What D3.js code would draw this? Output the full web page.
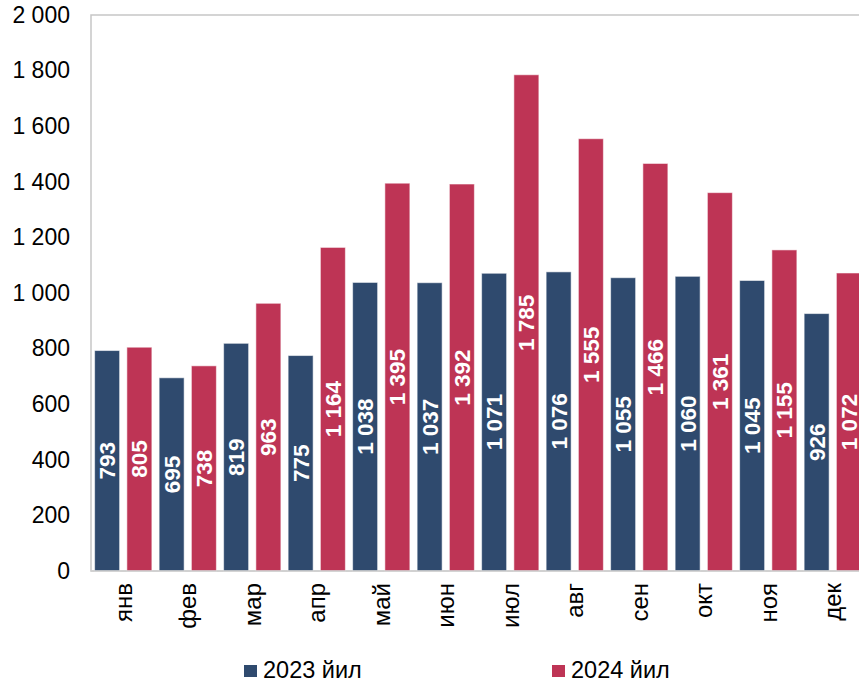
<!DOCTYPE html>
<html>
<head>
<meta charset="utf-8">
<script src="https://cdn.jsdelivr.net/npm/d3@7"></script>
<style>
  html, body { margin: 0; padding: 0; background: #fff; }
  svg { display: block; font-family: Arial, "Liberation Sans", sans-serif; }
</style>
</head>
<body>
<svg id="chart" width="859" height="684"></svg>
<script>
const months = ["янв","фев","мар","апр","май","июн","июл","авг","сен","окт","ноя","дек"];
const seriesNames = ["2023 йил","2024 йил"];
const values2023 = [793, 695, 819, 775, 1038, 1037, 1071, 1076, 1055, 1060, 1045, 926];
const values2024 = [805, 738, 963, 1164, 1395, 1392, 1785, 1555, 1466, 1361, 1155, 1072];
const yTicks = [0, 200, 400, 600, 800, 1000, 1200, 1400, 1600, 1800, 2000];
const colors = ["#2f4a6e", "#be3455"];

const loc = d3.formatLocale({decimal: ",", thousands: " ", grouping: [3], currency: ["", ""]});
const fmt = loc.format(",d");

const svg = d3.select("#chart");
const mLeft = 91, mRight = 865, mTop = 15, mBottom = 571;

const x0 = d3.scaleBand().domain(months).range([mLeft, mRight]).paddingInner(0).paddingOuter(0);
const x1 = d3.scaleBand().domain(seriesNames).range([0, x0.bandwidth()]).paddingInner(0.225).paddingOuter(0.1125);
const y = d3.scaleLinear().domain([0, 2000]).range([mBottom, mTop]);

// plot border
svg.append("rect")
  .attr("x", mLeft).attr("y", mTop)
  .attr("width", mRight - mLeft).attr("height", mBottom - mTop)
  .attr("fill", "none").attr("stroke", "#c6c6c6").attr("stroke-width", 1.5);

// y axis
const yAxis = d3.axisLeft(y).tickValues(yTicks).tickSize(0).tickPadding(21).tickFormat(fmt);
const gy = svg.append("g").attr("transform", `translate(${mLeft},0)`).call(yAxis);
gy.select(".domain").remove();
gy.selectAll("text").attr("font-size", "23px").attr("fill", "#000")
  .attr("font-family", "Arial, 'Liberation Sans', sans-serif");

// x axis labels
const xAxis = d3.axisBottom(x0).tickSize(0).tickPadding(0);
const gx = svg.append("g").attr("transform", `translate(0,${mBottom})`).call(xAxis);
gx.select(".domain").remove();
gx.selectAll(".tick text")
  .attr("font-size", "24px").attr("fill", "#000")
  .attr("font-family", "Arial, 'Liberation Sans', sans-serif")
  .attr("text-anchor", "end")
  .attr("y", 0).attr("dy", "0.3em")
  .attr("transform", "translate(1.5,12) rotate(-90)");

const data = months.map((m, i) => ({month: m, vals: [values2023[i], values2024[i]]}));

const groups = svg.append("g").selectAll("g").data(data).join("g")
  .attr("transform", d => `translate(${x0(d.month)},0)`);

groups.selectAll("rect").data(d => d.vals.map((v, j) => ({s: seriesNames[j], v, j})))
  .join("rect")
  .attr("x", d => x1(d.s))
  .attr("y", d => y(d.v))
  .attr("width", x1.bandwidth())
  .attr("height", d => y(0) - y(d.v))
  .attr("fill", d => colors[d.j])
  .attr("stroke", "rgba(255,255,255,0.55)")
  .attr("stroke-width", 1);

groups.selectAll("text.lbl").data(d => d.vals.map((v, j) => ({s: seriesNames[j], v, j})))
  .join("text").attr("class", "lbl")
  .attr("transform", d => `translate(${x1(d.s) + x1.bandwidth() / 2},${(y(d.v) + y(0)) / 2}) rotate(-90)`)
  .attr("text-anchor", "middle")
  .attr("dy", "0.36em")
  .attr("fill", "#fff")
  .attr("font-weight", "bold")
  .attr("font-size", "22.5px")
  .text(d => fmt(d.v));

// bottom axis line
svg.append("line").attr("x1", mLeft).attr("x2", mRight).attr("y1", mBottom).attr("y2", mBottom)
  .attr("stroke", "#d0d0d0").attr("stroke-width", 1.5);

// legend
const legendX = [244, 552];
const lg = svg.append("g").selectAll("g").data(seriesNames).join("g")
  .attr("transform", (d, i) => `translate(${legendX[i]},665)`);
lg.append("rect").attr("width", 13).attr("height", 12).attr("fill", (d, i) => colors[i]);
lg.append("text").attr("x", 19).attr("y", 13).attr("font-size", "23.5px").attr("fill", "#000").text(d => d);
</script>
</body>
</html>
